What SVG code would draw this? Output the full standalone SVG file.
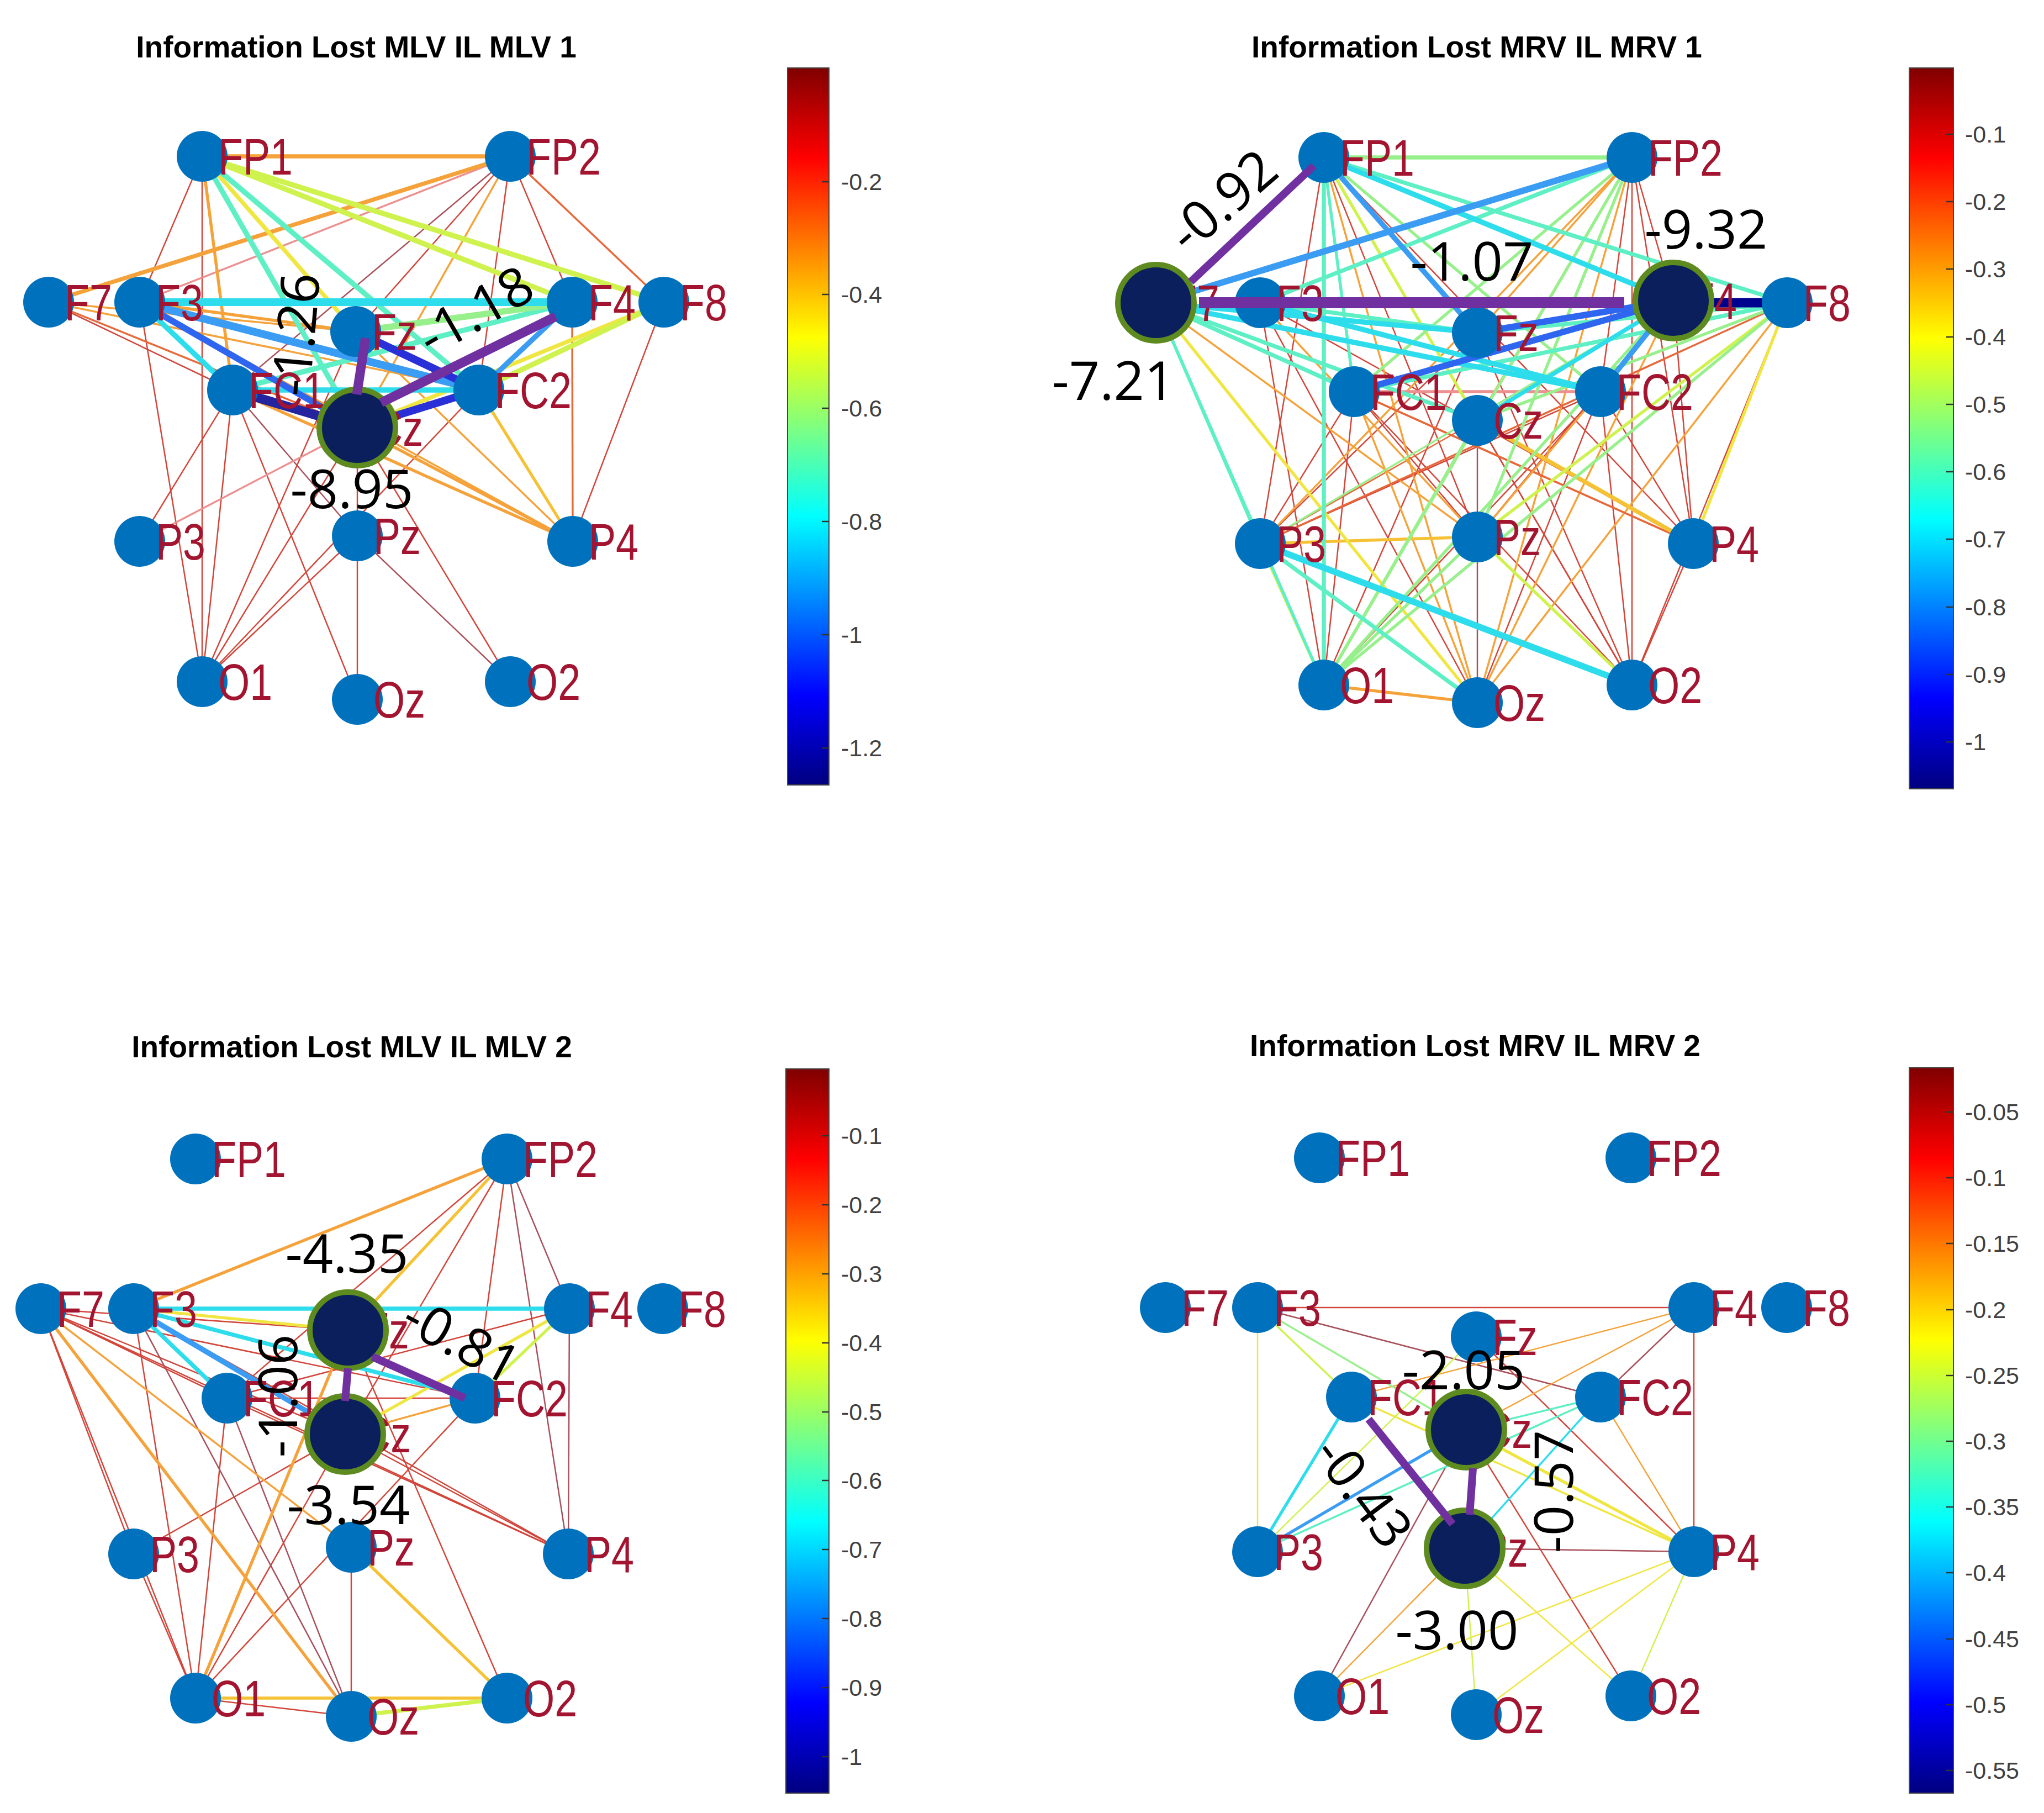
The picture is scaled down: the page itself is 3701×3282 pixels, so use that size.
<svg xmlns="http://www.w3.org/2000/svg" width="3701" height="3282" viewBox="0 0 3701 3282">
<defs>
<linearGradient id="jet" x1="0" y1="0" x2="0" y2="1">
<stop offset="0" stop-color="#800000"/>
<stop offset="0.125" stop-color="#FF0000"/>
<stop offset="0.375" stop-color="#FFFF00"/>
<stop offset="0.625" stop-color="#00FFFF"/>
<stop offset="0.875" stop-color="#0000FF"/>
<stop offset="1" stop-color="#000080"/>
</linearGradient>
<style>
.n{fill:#0072BD}
.bn{fill:#0B1F5C;stroke:#5E8B1F;stroke-width:10}
.nl{font-family:"Liberation Sans",Arial,sans-serif;font-size:92px;fill:#A2142F}
.vl{font-family:"Open Sans","DejaVu Sans",sans-serif;font-size:97px;fill:#000;text-anchor:middle}
.tt{font-family:"Liberation Sans",Arial,sans-serif;font-weight:bold;font-size:55px;fill:#000;text-anchor:middle}
.tl{font-family:"Liberation Sans",Arial,sans-serif;font-size:43px;fill:#404040}
.tk{stroke:#333;stroke-width:2.5}
.cb{stroke:#444;stroke-width:2;fill:url(#jet)}
line{fill:none}
.r{stroke:#D2453A}.br{stroke:#A8505A}.pk{stroke:#EC9090}.or{stroke:#E8683A}.o{stroke:#F5A23A}.oy{stroke:#F5C235}.y{stroke:#F0E642}.yg{stroke:#CFF24E}.g{stroke:#98F08C}.aq{stroke:#5EF0C4}.c{stroke:#2EDDEB}.az{stroke:#3A9CF2}.b{stroke:#2F66F0}.db{stroke:#2A30D8}.dd{stroke:#24249E}.nv{stroke:#00008F}.p{stroke:#7030A0}
.w1{stroke-width:2.5}.w2{stroke-width:3.5}.w3{stroke-width:5.5}.w4{stroke-width:7.5}.w5{stroke-width:9.5}.w6{stroke-width:11.5}.w7{stroke-width:14}.w8{stroke-width:17}.w9{stroke-width:20}
</style>
</defs>
<rect width="3701" height="3282" fill="#fff"/>

<!-- Titles -->
<text class="tt" x="645" y="104">Information Lost MLV IL MLV 1</text>
<text class="tt" x="2674" y="104">Information Lost MRV IL MRV 1</text>
<text class="tt" x="637" y="1914">Information Lost MLV IL MLV 2</text>
<text class="tt" x="2671" y="1912">Information Lost MRV IL MRV 2</text>

<!-- ========== Panel 1 connectors ========== -->
<g id="p1-connectors">
<line class="r w1" x1="366" y1="283" x2="253" y2="547"/>
<line class="r w1" x1="366" y1="283" x2="366" y2="1234"/>
<line class="br w1" x1="924" y1="283" x2="421" y2="706"/>
<line class="r w1" x1="924" y1="283" x2="644" y2="600"/>
<line class="r w1" x1="924" y1="283" x2="867" y2="706"/>
<line class="r w1" x1="924" y1="283" x2="1036" y2="547"/>
<line class="r w1" x1="1202" y1="547" x2="1037" y2="980"/>
<line class="r w1" x1="88" y1="547" x2="421" y2="706"/>
<line class="r w1" x1="421" y1="706" x2="253" y2="980"/>
<line class="r w1" x1="421" y1="706" x2="366" y2="1234"/>
<line class="r w1" x1="421" y1="706" x2="647" y2="1266"/>
<line class="br w1" x1="421" y1="706" x2="647" y2="970"/>
<line class="r w1" x1="253" y1="547" x2="366" y2="1234"/>
<line class="r w1" x1="647" y1="970" x2="366" y2="1234"/>
<line class="br w1" x1="647" y1="970" x2="924" y2="1234"/>
<line class="r w1" x1="647" y1="970" x2="647" y2="1266"/>
<line class="r w1" x1="647" y1="774" x2="924" y2="1234"/>
<line class="r w1" x1="366" y1="1234" x2="647" y2="774"/>
<line class="r w1" x1="366" y1="1234" x2="644" y2="600"/>
<line class="r w1" x1="647" y1="774" x2="647" y2="970"/>
<line class="r w1" x1="867" y1="706" x2="366" y2="1234"/>
<line class="pk w2" x1="924" y1="283" x2="253" y2="547"/>
<line class="pk w2" x1="253" y1="980" x2="647" y2="774"/>
<line class="or w2" x1="88" y1="547" x2="647" y2="774"/>
<line class="or w2" x1="924" y1="283" x2="1202" y2="547"/>
<line class="o w2" x1="924" y1="283" x2="647" y2="774"/>
<line class="o w3" x1="253" y1="547" x2="644" y2="600"/>
<line class="o w2" x1="88" y1="547" x2="644" y2="600"/>
<line class="o w2" x1="88" y1="547" x2="867" y2="706"/>
<line class="or w2" x1="1036" y1="547" x2="1037" y2="980"/>
<line class="o w2" x1="253" y1="547" x2="1037" y2="980"/>
<line class="o w2" x1="644" y1="600" x2="1037" y2="980"/>
<line class="o w3" x1="647" y1="774" x2="1037" y2="980"/>
<line class="o w3" x1="421" y1="706" x2="1037" y2="980"/>
<line class="o w3" x1="366" y1="283" x2="421" y2="706"/>
<line class="oy w3" x1="867" y1="706" x2="1037" y2="980"/>
<line class="o w4" x1="366" y1="283" x2="924" y2="283"/>
<line class="o w4" x1="924" y1="283" x2="88" y2="547"/>
<line class="y w4" x1="366" y1="283" x2="644" y2="600"/>
<line class="y w4" x1="1202" y1="547" x2="647" y2="774"/>
<line class="yg w5" x1="366" y1="283" x2="1202" y2="547"/>
<line class="yg w5" x1="366" y1="283" x2="1036" y2="547"/>
<line class="yg w5" x1="1202" y1="547" x2="867" y2="706"/>
<line class="aq w5" x1="366" y1="283" x2="867" y2="706"/>
<line class="aq w5" x1="366" y1="283" x2="647" y2="774"/>
<line class="aq w5" x1="1036" y1="547" x2="421" y2="706"/>
<line class="g w6" x1="1036" y1="547" x2="644" y2="600"/>
<line class="c w5" x1="253" y1="547" x2="421" y2="706"/>
<line class="c w5" x1="421" y1="706" x2="867" y2="706"/>
<line class="c w7" x1="253" y1="547" x2="1036" y2="547"/>
<line class="az w5" x1="1036" y1="547" x2="867" y2="706"/>
<line class="az w7" x1="253" y1="547" x2="867" y2="706"/>
<line class="b w6" x1="253" y1="547" x2="647" y2="774"/>
<line class="db w7" x1="644" y1="600" x2="867" y2="706"/>
<line class="db w7" x1="647" y1="774" x2="867" y2="706"/>
<line class="dd w8" x1="421" y1="706" x2="647" y2="774"/>
</g>

<!-- ========== Panel 2 connectors ========== -->
<g id="p2-connectors">
<line class="r w1" x1="2397" y1="285" x2="2282" y2="984"/>
<line class="r w1" x1="2397" y1="285" x2="2675" y2="972"/>
<line class="r w1" x1="2397" y1="285" x2="2955" y2="1240"/>
<line class="r w1" x1="2397" y1="285" x2="3066" y2="984"/>
<line class="r w1" x1="2955" y1="285" x2="2955" y2="1240"/>
<line class="r w1" x1="2955" y1="285" x2="3066" y2="984"/>
<line class="r w1" x1="2955" y1="285" x2="3030" y2="544"/>
<line class="r w1" x1="2955" y1="285" x2="2898" y2="709"/>
<line class="r w1" x1="2282" y1="548" x2="3066" y2="984"/>
<line class="r w1" x1="2282" y1="548" x2="2397" y2="1240"/>
<line class="r w1" x1="2282" y1="548" x2="2675" y2="1272"/>
<line class="r w1" x1="3030" y1="544" x2="2675" y2="972"/>
<line class="r w1" x1="3030" y1="544" x2="3066" y2="984"/>
<line class="r w1" x1="2452" y1="709" x2="2675" y2="972"/>
<line class="r w1" x1="2452" y1="709" x2="2955" y2="1240"/>
<line class="r w1" x1="2452" y1="709" x2="2397" y2="1240"/>
<line class="r w1" x1="2452" y1="709" x2="2282" y2="984"/>
<line class="r w1" x1="2898" y1="709" x2="2282" y2="984"/>
<line class="r w1" x1="2898" y1="709" x2="2397" y2="1240"/>
<line class="r w1" x1="2898" y1="709" x2="2675" y2="1272"/>
<line class="r w1" x1="2898" y1="709" x2="2955" y2="1240"/>
<line class="r w1" x1="2898" y1="709" x2="3066" y2="984"/>
<line class="br w1" x1="2675" y1="761" x2="2675" y2="972"/>
<line class="r w1" x1="2675" y1="761" x2="2955" y2="1240"/>
<line class="br w1" x1="2675" y1="972" x2="2675" y2="1272"/>
<line class="r w1" x1="3236" y1="548" x2="2955" y2="1240"/>
<line class="r w1" x1="2675" y1="602" x2="2282" y2="984"/>
<line class="r w1" x1="2675" y1="602" x2="2955" y2="1240"/>
<line class="r w1" x1="2675" y1="602" x2="2397" y2="1240"/>
<line class="r w1" x1="3066" y1="984" x2="2955" y2="1240"/>
<line class="or w1" x1="2675" y1="761" x2="2282" y2="984"/>
<line class="o w2" x1="2397" y1="285" x2="2675" y2="1272"/>
<line class="o w2" x1="2955" y1="285" x2="2675" y2="602"/>
<line class="o w2" x1="2955" y1="285" x2="2675" y2="761"/>
<line class="o w2" x1="2955" y1="285" x2="2282" y2="984"/>
<line class="o w2" x1="2955" y1="285" x2="2675" y2="1272"/>
<line class="o w2" x1="2093" y1="548" x2="2675" y2="972"/>
<line class="or w2" x1="2093" y1="548" x2="3066" y2="984"/>
<line class="o w2" x1="2282" y1="548" x2="2675" y2="972"/>
<line class="o w2" x1="3030" y1="544" x2="2675" y2="1272"/>
<line class="o w2" x1="3236" y1="548" x2="2675" y2="1272"/>
<line class="o w2" x1="2452" y1="709" x2="2675" y2="1272"/>
<line class="or w2" x1="2452" y1="709" x2="3066" y2="984"/>
<line class="o w2" x1="2898" y1="709" x2="2675" y2="972"/>
<line class="or w2" x1="3236" y1="548" x2="2282" y2="984"/>
<line class="pk w3" x1="2452" y1="709" x2="2898" y2="709"/>
<line class="o w3" x1="2397" y1="1240" x2="2675" y2="1272"/>
<line class="oy w3" x1="2282" y1="984" x2="2675" y2="972"/>
<line class="oy w4" x1="2675" y1="761" x2="3066" y2="984"/>
<line class="y w3" x1="2093" y1="548" x2="2675" y2="1272"/>
<line class="y w3" x1="3236" y1="548" x2="3066" y2="984"/>
<line class="yg w3" x1="2397" y1="285" x2="2675" y2="761"/>
<line class="yg w3" x1="3236" y1="548" x2="2675" y2="972"/>
<line class="yg w3" x1="2282" y1="984" x2="2397" y2="1240"/>
<line class="yg w3" x1="2675" y1="972" x2="2955" y2="1240"/>
<line class="g w4" x1="2397" y1="285" x2="2955" y2="285"/>
<line class="g w3" x1="2397" y1="285" x2="2898" y2="709"/>
<line class="g w3" x1="2955" y1="285" x2="2452" y2="709"/>
<line class="g w3" x1="2955" y1="285" x2="2675" y2="972"/>
<line class="g w3" x1="2955" y1="285" x2="2397" y2="1240"/>
<line class="g w2" x1="3030" y1="544" x2="2282" y2="984"/>
<line class="g w3" x1="3030" y1="544" x2="2397" y2="1240"/>
<line class="g w3" x1="3236" y1="548" x2="2675" y2="761"/>
<line class="g w3" x1="3236" y1="548" x2="2397" y2="1240"/>
<line class="g w3" x1="2675" y1="761" x2="2397" y2="1240"/>
<line class="g w3" x1="2675" y1="972" x2="2397" y2="1240"/>
<line class="aq w4" x1="2397" y1="285" x2="3236" y2="548"/>
<line class="aq w3" x1="2397" y1="285" x2="2452" y2="709"/>
<line class="aq w4" x1="2397" y1="285" x2="2397" y2="1240"/>
<line class="aq w4" x1="2955" y1="285" x2="2282" y2="548"/>
<line class="aq w4" x1="2093" y1="548" x2="2675" y2="761"/>
<line class="aq w4" x1="2093" y1="548" x2="2452" y2="709"/>
<line class="aq w3" x1="2093" y1="548" x2="2282" y2="984"/>
<line class="aq w3" x1="2093" y1="548" x2="2397" y2="1240"/>
<line class="aq w4" x1="2282" y1="548" x2="2675" y2="602"/>
<line class="aq w4" x1="3236" y1="548" x2="2452" y2="709"/>
<line class="aq w4" x1="3236" y1="548" x2="2675" y2="602"/>
<line class="aq w4" x1="2282" y1="984" x2="2675" y2="1272"/>
<line class="c w5" x1="2397" y1="285" x2="3030" y2="544"/>
<line class="c w5" x1="2093" y1="548" x2="2675" y2="602"/>
<line class="c w5" x1="2093" y1="548" x2="2898" y2="709"/>
<line class="c w5" x1="2282" y1="548" x2="2898" y2="709"/>
<line class="c w4" x1="3030" y1="544" x2="2675" y2="761"/>
<line class="c w6" x1="2282" y1="984" x2="2955" y2="1240"/>
<line class="az w6" x1="2955" y1="285" x2="2093" y2="548"/>
<line class="az w5" x1="2397" y1="285" x2="2675" y2="602"/>
<line class="az w5" x1="3030" y1="544" x2="2898" y2="709"/>
<line class="b w6" x1="3030" y1="544" x2="2675" y2="602"/>
<line class="b w6" x1="3030" y1="544" x2="2452" y2="709"/>
<line class="nv w8" x1="3030" y1="548" x2="3236" y2="548"/>
</g>

<!-- ========== Panel 3 connectors ========== -->
<g id="p3-connectors">
<line class="r w1" x1="918" y1="2098" x2="625" y2="2596"/>
<line class="r w1" x1="918" y1="2098" x2="860" y2="2531"/>
<line class="r w1" x1="918" y1="2098" x2="411" y2="2531"/>
<line class="r w1" x1="242" y1="2369" x2="1029" y2="2813"/>
<line class="r w1" x1="242" y1="2369" x2="354" y2="3074"/>
<line class="r w1" x1="74" y1="2369" x2="630" y2="2408"/>
<line class="r w1" x1="74" y1="2369" x2="860" y2="2531"/>
<line class="r w1" x1="74" y1="2369" x2="625" y2="2596"/>
<line class="r w1" x1="74" y1="2369" x2="411" y2="2531"/>
<line class="r w1" x1="74" y1="2369" x2="1029" y2="2813"/>
<line class="r w1" x1="74" y1="2369" x2="242" y2="2813"/>
<line class="r w1" x1="74" y1="2369" x2="354" y2="3074"/>
<line class="r w1" x1="1031" y1="2369" x2="411" y2="2531"/>
<line class="r w1" x1="411" y1="2531" x2="860" y2="2531"/>
<line class="r w1" x1="411" y1="2531" x2="1029" y2="2813"/>
<line class="r w1" x1="625" y1="2596" x2="1029" y2="2813"/>
<line class="r w1" x1="242" y1="2813" x2="625" y2="2596"/>
<line class="r w1" x1="860" y1="2531" x2="354" y2="3074"/>
<line class="r w1" x1="354" y1="3074" x2="625" y2="2596"/>
<line class="r w1" x1="354" y1="3074" x2="411" y2="2531"/>
<line class="r w1" x1="354" y1="3074" x2="242" y2="2813"/>
<line class="r w1" x1="354" y1="3074" x2="636" y2="3107"/>
<line class="r w1" x1="636" y1="3107" x2="636" y2="2801"/>
<line class="r w1" x1="630" y1="2408" x2="918" y2="3074"/>
<line class="br w1" x1="411" y1="2531" x2="636" y2="3107"/>
<line class="br w1" x1="242" y1="2369" x2="636" y2="3107"/>
<line class="br w1" x1="918" y1="2098" x2="1031" y2="2369"/>
<line class="br w1" x1="918" y1="2098" x2="1029" y2="2813"/>
<line class="br w1" x1="1031" y1="2369" x2="1029" y2="2813"/>
<line class="o w3" x1="918" y1="2098" x2="242" y2="2369"/>
<line class="oy w3" x1="918" y1="2098" x2="630" y2="2408"/>
<line class="o w2" x1="74" y1="2369" x2="636" y2="2801"/>
<line class="o w3" x1="74" y1="2369" x2="636" y2="3107"/>
<line class="o w2" x1="625" y1="2596" x2="860" y2="2531"/>
<line class="o w3" x1="354" y1="3074" x2="630" y2="2408"/>
<line class="oy w3" x1="354" y1="3074" x2="918" y2="3074"/>
<line class="oy w3" x1="636" y1="2801" x2="918" y2="3074"/>
<line class="y w3" x1="242" y1="2369" x2="630" y2="2408"/>
<line class="y w3" x1="1031" y1="2369" x2="625" y2="2596"/>
<line class="yg w3" x1="1031" y1="2369" x2="860" y2="2531"/>
<line class="yg w4" x1="636" y1="3107" x2="918" y2="3074"/>
<line class="c w4" x1="242" y1="2369" x2="1031" y2="2369"/>
<line class="c w4" x1="242" y1="2369" x2="860" y2="2531"/>
<line class="c w4" x1="242" y1="2369" x2="411" y2="2531"/>
<line class="az w5" x1="242" y1="2369" x2="625" y2="2596"/>
</g>

<!-- ========== Panel 4 connectors ========== -->
<g id="p4-connectors">
<line class="r w1" x1="2277" y1="2367" x2="3067" y2="2367"/>
<line class="r w1" x1="3067" y1="2367" x2="3067" y2="2809"/>
<line class="r w1" x1="2673" y1="2420" x2="3067" y2="2809"/>
<line class="r w1" x1="2655" y1="2588" x2="2953" y2="3070"/>
<line class="br w1" x1="2652" y1="2803" x2="3067" y2="2809"/>
<line class="br w1" x1="2277" y1="2367" x2="2898" y2="2529"/>
<line class="br w1" x1="3067" y1="2367" x2="2898" y2="2529"/>
<line class="br w1" x1="2389" y1="3070" x2="2655" y2="2588"/>
<line class="o w1" x1="3067" y1="2367" x2="2655" y2="2588"/>
<line class="o w1" x1="3067" y1="2367" x2="2447" y2="2529"/>
<line class="o w1" x1="2898" y1="2529" x2="3067" y2="2809"/>
<line class="o w1" x1="2389" y1="3070" x2="2652" y2="2803"/>
<line class="y w1" x1="2277" y1="2367" x2="2277" y2="2809"/>
<line class="y w1" x1="2389" y1="3070" x2="3067" y2="2809"/>
<line class="y w1" x1="2673" y1="3104" x2="3067" y2="2809"/>
<line class="y w1" x1="2652" y1="2803" x2="2953" y2="3070"/>
<line class="y w3" x1="2655" y1="2588" x2="3067" y2="2809"/>
<line class="y w2" x1="2447" y1="2529" x2="3067" y2="2809"/>
<line class="yg w1" x1="2673" y1="3104" x2="2652" y2="2803"/>
<line class="yg w1" x1="2953" y1="3070" x2="3067" y2="2809"/>
<line class="yg w2" x1="2277" y1="2367" x2="2447" y2="2529"/>
<line class="yg w1" x1="2277" y1="2809" x2="2673" y2="2420"/>
<line class="g w2" x1="2277" y1="2367" x2="2655" y2="2588"/>
<line class="aq w2" x1="2277" y1="2809" x2="2898" y2="2529"/>
<line class="aq w2" x1="2898" y1="2529" x2="2655" y2="2588"/>
<line class="c w3" x1="2447" y1="2529" x2="2277" y2="2809"/>
<line class="c w2" x1="2898" y1="2529" x2="2652" y2="2803"/>
<line class="az w3" x1="2277" y1="2809" x2="2655" y2="2588"/>
</g>

<!-- ========== Panel 1 nodes ========== -->
<g id="p1-FP1"><circle class="n" cx="366" cy="283" r="46"/><text class="nl" transform="translate(395 316) scale(.8 1)">FP1</text></g>
<g id="p1-FP2"><circle class="n" cx="924" cy="283" r="46"/><text class="nl" transform="translate(953 316) scale(.8 1)">FP2</text></g>
<g id="p1-F7"><circle class="n" cx="88" cy="547" r="46"/><text class="nl" transform="translate(117 580) scale(.8 1)">F7</text></g>
<g id="p1-F3"><circle class="n" cx="253" cy="547" r="46"/><text class="nl" transform="translate(282 580) scale(.8 1)">F3</text></g>
<g id="p1-Fz"><circle class="n" cx="644" cy="600" r="46"/><text class="nl" transform="translate(673 633) scale(.8 1)">Fz</text></g>
<g id="p1-F4"><circle class="n" cx="1036" cy="547" r="46"/><text class="nl" transform="translate(1065 580) scale(.8 1)">F4</text></g>
<g id="p1-F8"><circle class="n" cx="1202" cy="547" r="46"/><text class="nl" transform="translate(1231 580) scale(.8 1)">F8</text></g>
<g id="p1-FC1"><circle class="n" cx="421" cy="706" r="46"/><text class="nl" transform="translate(450 739) scale(.8 1)">FC1</text></g>
<g id="p1-FC2"><circle class="n" cx="867" cy="706" r="46"/><text class="nl" transform="translate(896 739) scale(.8 1)">FC2</text></g>
<g id="p1-P3"><circle class="n" cx="253" cy="980" r="46"/><text class="nl" transform="translate(282 1013) scale(.8 1)">P3</text></g>
<g id="p1-Pz"><circle class="n" cx="647" cy="970" r="46"/><text class="nl" transform="translate(676 1003) scale(.8 1)">Pz</text></g>
<g id="p1-P4"><circle class="n" cx="1037" cy="980" r="46"/><text class="nl" transform="translate(1066 1013) scale(.8 1)">P4</text></g>
<g id="p1-O1"><circle class="n" cx="366" cy="1234" r="46"/><text class="nl" transform="translate(395 1267) scale(.8 1)">O1</text></g>
<g id="p1-Oz"><circle class="n" cx="647" cy="1266" r="46"/><text class="nl" transform="translate(676 1299) scale(.8 1)">Oz</text></g>
<g id="p1-O2"><circle class="n" cx="924" cy="1234" r="46"/><text class="nl" transform="translate(953 1267) scale(.8 1)">O2</text></g>
<g id="p1-Cz"><text class="nl" transform="translate(676 807) scale(.8 1)">Cz</text><circle class="bn" cx="647" cy="774" r="69"/></g>

<!-- ========== Panel 2 nodes ========== -->
<g id="p2-FP1"><circle class="n" cx="2397" cy="285" r="46"/><text class="nl" transform="translate(2426 318) scale(.8 1)">FP1</text></g>
<g id="p2-FP2"><circle class="n" cx="2955" cy="285" r="46"/><text class="nl" transform="translate(2984 318) scale(.8 1)">FP2</text></g>
<g id="p2-F3"><circle class="n" cx="2282" cy="548" r="46"/><text class="nl" transform="translate(2311 581) scale(.8 1)">F3</text></g>
<g id="p2-Fz"><circle class="n" cx="2675" cy="602" r="46"/><text class="nl" transform="translate(2704 635) scale(.8 1)">Fz</text></g>
<g id="p2-F8"><circle class="n" cx="3236" cy="548" r="46"/><text class="nl" transform="translate(3265 581) scale(.8 1)">F8</text></g>
<g id="p2-FC1"><circle class="n" cx="2452" cy="709" r="46"/><text class="nl" transform="translate(2481 742) scale(.8 1)">FC1</text></g>
<g id="p2-FC2"><circle class="n" cx="2898" cy="709" r="46"/><text class="nl" transform="translate(2927 742) scale(.8 1)">FC2</text></g>
<g id="p2-Cz"><circle class="n" cx="2675" cy="761" r="46"/><text class="nl" transform="translate(2704 794) scale(.8 1)">Cz</text></g>
<g id="p2-P3"><circle class="n" cx="2282" cy="984" r="46"/><text class="nl" transform="translate(2311 1017) scale(.8 1)">P3</text></g>
<g id="p2-Pz"><circle class="n" cx="2675" cy="972" r="46"/><text class="nl" transform="translate(2704 1005) scale(.8 1)">Pz</text></g>
<g id="p2-P4"><circle class="n" cx="3066" cy="984" r="46"/><text class="nl" transform="translate(3095 1017) scale(.8 1)">P4</text></g>
<g id="p2-O1"><circle class="n" cx="2397" cy="1240" r="46"/><text class="nl" transform="translate(2426 1273) scale(.8 1)">O1</text></g>
<g id="p2-Oz"><circle class="n" cx="2675" cy="1272" r="46"/><text class="nl" transform="translate(2704 1305) scale(.8 1)">Oz</text></g>
<g id="p2-O2"><circle class="n" cx="2955" cy="1240" r="46"/><text class="nl" transform="translate(2984 1273) scale(.8 1)">O2</text></g>
<g id="p2-F7"><text class="nl" transform="translate(2122 581) scale(.8 1)">F7</text><circle class="bn" cx="2093" cy="548" r="69"/></g>
<g id="p2-F4"><text class="nl" transform="translate(3059 577) scale(.8 1)">F4</text><circle class="bn" cx="3030" cy="544" r="69"/></g>

<!-- ========== Panel 3 nodes ========== -->
<g id="p3-FP1"><circle class="n" cx="354" cy="2098" r="46"/><text class="nl" transform="translate(383 2131) scale(.8 1)">FP1</text></g>
<g id="p3-FP2"><circle class="n" cx="918" cy="2098" r="46"/><text class="nl" transform="translate(947 2131) scale(.8 1)">FP2</text></g>
<g id="p3-F7"><circle class="n" cx="74" cy="2369" r="46"/><text class="nl" transform="translate(103 2402) scale(.8 1)">F7</text></g>
<g id="p3-F3"><circle class="n" cx="242" cy="2369" r="46"/><text class="nl" transform="translate(271 2402) scale(.8 1)">F3</text></g>
<g id="p3-F4"><circle class="n" cx="1031" cy="2369" r="46"/><text class="nl" transform="translate(1060 2402) scale(.8 1)">F4</text></g>
<g id="p3-F8"><circle class="n" cx="1200" cy="2369" r="46"/><text class="nl" transform="translate(1229 2402) scale(.8 1)">F8</text></g>
<g id="p3-FC1"><circle class="n" cx="411" cy="2531" r="46"/><text class="nl" transform="translate(440 2564) scale(.8 1)">FC1</text></g>
<g id="p3-FC2"><circle class="n" cx="860" cy="2531" r="46"/><text class="nl" transform="translate(889 2564) scale(.8 1)">FC2</text></g>
<g id="p3-P3"><circle class="n" cx="242" cy="2813" r="46"/><text class="nl" transform="translate(271 2846) scale(.8 1)">P3</text></g>
<g id="p3-Pz"><circle class="n" cx="636" cy="2801" r="46"/><text class="nl" transform="translate(665 2834) scale(.8 1)">Pz</text></g>
<g id="p3-P4"><circle class="n" cx="1029" cy="2813" r="46"/><text class="nl" transform="translate(1058 2846) scale(.8 1)">P4</text></g>
<g id="p3-O1"><circle class="n" cx="354" cy="3074" r="46"/><text class="nl" transform="translate(383 3107) scale(.8 1)">O1</text></g>
<g id="p3-Oz"><circle class="n" cx="636" cy="3107" r="46"/><text class="nl" transform="translate(665 3140) scale(.8 1)">Oz</text></g>
<g id="p3-O2"><circle class="n" cx="918" cy="3074" r="46"/><text class="nl" transform="translate(947 3107) scale(.8 1)">O2</text></g>
<g id="p3-Fz"><text class="nl" transform="translate(659 2441) scale(.8 1)">Fz</text><circle class="bn" cx="630" cy="2408" r="69"/></g>
<g id="p3-Cz"><text class="nl" transform="translate(654 2629) scale(.8 1)">Cz</text><circle class="bn" cx="625" cy="2596" r="69"/></g>

<!-- ========== Panel 4 nodes ========== -->
<g id="p4-FP1"><circle class="n" cx="2389" cy="2096" r="46"/><text class="nl" transform="translate(2418 2129) scale(.8 1)">FP1</text></g>
<g id="p4-FP2"><circle class="n" cx="2953" cy="2096" r="46"/><text class="nl" transform="translate(2982 2129) scale(.8 1)">FP2</text></g>
<g id="p4-F7"><circle class="n" cx="2110" cy="2367" r="46"/><text class="nl" transform="translate(2139 2400) scale(.8 1)">F7</text></g>
<g id="p4-F3"><circle class="n" cx="2277" cy="2367" r="46"/><text class="nl" transform="translate(2306 2400) scale(.8 1)">F3</text></g>
<g id="p4-Fz"><circle class="n" cx="2673" cy="2420" r="46"/><text class="nl" transform="translate(2702 2453) scale(.8 1)">Fz</text></g>
<g id="p4-F4"><circle class="n" cx="3067" cy="2367" r="46"/><text class="nl" transform="translate(3096 2400) scale(.8 1)">F4</text></g>
<g id="p4-F8"><circle class="n" cx="3235" cy="2367" r="46"/><text class="nl" transform="translate(3264 2400) scale(.8 1)">F8</text></g>
<g id="p4-FC1"><circle class="n" cx="2447" cy="2529" r="46"/><text class="nl" transform="translate(2476 2562) scale(.8 1)">FC1</text></g>
<g id="p4-FC2"><circle class="n" cx="2898" cy="2529" r="46"/><text class="nl" transform="translate(2927 2562) scale(.8 1)">FC2</text></g>
<g id="p4-P3"><circle class="n" cx="2277" cy="2809" r="46"/><text class="nl" transform="translate(2306 2842) scale(.8 1)">P3</text></g>
<g id="p4-P4"><circle class="n" cx="3067" cy="2809" r="46"/><text class="nl" transform="translate(3096 2842) scale(.8 1)">P4</text></g>
<g id="p4-O1"><circle class="n" cx="2389" cy="3070" r="46"/><text class="nl" transform="translate(2418 3103) scale(.8 1)">O1</text></g>
<g id="p4-Oz"><circle class="n" cx="2673" cy="3104" r="46"/><text class="nl" transform="translate(2702 3137) scale(.8 1)">Oz</text></g>
<g id="p4-O2"><circle class="n" cx="2953" cy="3070" r="46"/><text class="nl" transform="translate(2982 3103) scale(.8 1)">O2</text></g>
<g id="p4-Cz"><text class="nl" transform="translate(2684 2621) scale(.8 1)">Cz</text><circle class="bn" cx="2655" cy="2588" r="69"/></g>
<g id="p4-Pz"><text class="nl" transform="translate(2681 2836) scale(.8 1)">Pz</text><circle class="bn" cx="2652" cy="2803" r="69"/></g>

<!-- ========== Highlighted connectors ========== -->
<g id="highlight-connectors">
<line class="p w8" x1="662" y1="612" x2="646" y2="714"/>
<line class="p w8" x1="1006" y1="573" x2="690" y2="729"/>
<line class="p w7" x1="2379" y1="300" x2="2156" y2="510"/>
<line class="p w9" x1="2171" y1="548" x2="2941" y2="548"/>
<line class="p w7" x1="630" y1="2477" x2="625" y2="2536"/>
<line class="p w7" x1="674" y1="2456" x2="842" y2="2531"/>
<line class="p w7" x1="2478" y1="2569" x2="2630" y2="2759"/>
<line class="p w7" x1="2667" y1="2658" x2="2661" y2="2742"/>
</g>

<!-- ========== Value labels ========== -->
<g id="value-labels">
<text class="vl" transform="translate(535 605) rotate(-85)" y="35">-1.26</text>
<text class="vl" transform="translate(860 562) rotate(-30)" y="35">-1.18</text>
<text class="vl" x="637" y="920">-8.95</text>
<text class="vl" transform="translate(2213 363) rotate(-41)" y="35">-0.92</text>
<text class="vl" x="2665" y="508">-1.07</text>
<text class="vl" x="3089" y="450">-9.32</text>
<text class="vl" x="2016" y="724">-7.21</text>
<text class="vl" x="628" y="2304">-4.35</text>
<text class="vl" x="631" y="2759">-3.54</text>
<text class="vl" transform="translate(503 2527) rotate(-90)" y="35">-1.06</text>
<text class="vl" transform="translate(836 2426) rotate(28)" y="35">-0.81</text>
<text class="vl" x="2650" y="2515">-2.05</text>
<text class="vl" x="2638" y="2986">-3.00</text>
<text class="vl" transform="translate(2469 2700) rotate(53)" y="35">-0.43</text>
<text class="vl" transform="translate(2813 2700) rotate(-90)" y="35">-0.57</text>
</g>

<!-- ========== Colorbars ========== -->
<g id="colorbar-1">
<rect class="cb" x="1426" y="123" width="75" height="1298"/>
<line class="tk" x1="1488" y1="329" x2="1501" y2="329"/>
<line class="tk" x1="1488" y1="533" x2="1501" y2="533"/>
<line class="tk" x1="1488" y1="739" x2="1501" y2="739"/>
<line class="tk" x1="1488" y1="944" x2="1501" y2="944"/>
<line class="tk" x1="1488" y1="1149" x2="1501" y2="1149"/>
<line class="tk" x1="1488" y1="1354" x2="1501" y2="1354"/>
<text class="tl" x="1523" y="344">-0.2</text>
<text class="tl" x="1523" y="548">-0.4</text>
<text class="tl" x="1523" y="754">-0.6</text>
<text class="tl" x="1523" y="959">-0.8</text>
<text class="tl" x="1523" y="1164">-1</text>
<text class="tl" x="1523" y="1369">-1.2</text>
</g>
<g id="colorbar-2">
<rect class="cb" x="3457" y="123" width="80" height="1305"/>
<line class="tk" x1="3524" y1="243" x2="3537" y2="243"/>
<line class="tk" x1="3524" y1="365" x2="3537" y2="365"/>
<line class="tk" x1="3524" y1="487" x2="3537" y2="487"/>
<line class="tk" x1="3524" y1="610" x2="3537" y2="610"/>
<line class="tk" x1="3524" y1="732" x2="3537" y2="732"/>
<line class="tk" x1="3524" y1="854" x2="3537" y2="854"/>
<line class="tk" x1="3524" y1="976" x2="3537" y2="976"/>
<line class="tk" x1="3524" y1="1099" x2="3537" y2="1099"/>
<line class="tk" x1="3524" y1="1221" x2="3537" y2="1221"/>
<line class="tk" x1="3524" y1="1343" x2="3537" y2="1343"/>
<text class="tl" x="3558" y="258">-0.1</text>
<text class="tl" x="3558" y="380">-0.2</text>
<text class="tl" x="3558" y="502">-0.3</text>
<text class="tl" x="3558" y="625">-0.4</text>
<text class="tl" x="3558" y="747">-0.5</text>
<text class="tl" x="3558" y="869">-0.6</text>
<text class="tl" x="3558" y="991">-0.7</text>
<text class="tl" x="3558" y="1114">-0.8</text>
<text class="tl" x="3558" y="1236">-0.9</text>
<text class="tl" x="3558" y="1358">-1</text>
</g>
<g id="colorbar-3">
<rect class="cb" x="1423" y="1935" width="78" height="1311"/>
<line class="tk" x1="1488" y1="2056" x2="1501" y2="2056"/>
<line class="tk" x1="1488" y1="2181" x2="1501" y2="2181"/>
<line class="tk" x1="1488" y1="2306" x2="1501" y2="2306"/>
<line class="tk" x1="1488" y1="2431" x2="1501" y2="2431"/>
<line class="tk" x1="1488" y1="2556" x2="1501" y2="2556"/>
<line class="tk" x1="1488" y1="2680" x2="1501" y2="2680"/>
<line class="tk" x1="1488" y1="2805" x2="1501" y2="2805"/>
<line class="tk" x1="1488" y1="2930" x2="1501" y2="2930"/>
<line class="tk" x1="1488" y1="3055" x2="1501" y2="3055"/>
<line class="tk" x1="1488" y1="3180" x2="1501" y2="3180"/>
<text class="tl" x="1523" y="2071">-0.1</text>
<text class="tl" x="1523" y="2196">-0.2</text>
<text class="tl" x="1523" y="2321">-0.3</text>
<text class="tl" x="1523" y="2446">-0.4</text>
<text class="tl" x="1523" y="2571">-0.5</text>
<text class="tl" x="1523" y="2695">-0.6</text>
<text class="tl" x="1523" y="2820">-0.7</text>
<text class="tl" x="1523" y="2945">-0.8</text>
<text class="tl" x="1523" y="3070">-0.9</text>
<text class="tl" x="1523" y="3195">-1</text>
</g>
<g id="colorbar-4">
<rect class="cb" x="3457" y="1933" width="80" height="1313"/>
<line class="tk" x1="3524" y1="2013" x2="3537" y2="2013"/>
<line class="tk" x1="3524" y1="2132" x2="3537" y2="2132"/>
<line class="tk" x1="3524" y1="2251" x2="3537" y2="2251"/>
<line class="tk" x1="3524" y1="2371" x2="3537" y2="2371"/>
<line class="tk" x1="3524" y1="2490" x2="3537" y2="2490"/>
<line class="tk" x1="3524" y1="2609" x2="3537" y2="2609"/>
<line class="tk" x1="3524" y1="2728" x2="3537" y2="2728"/>
<line class="tk" x1="3524" y1="2847" x2="3537" y2="2847"/>
<line class="tk" x1="3524" y1="2967" x2="3537" y2="2967"/>
<line class="tk" x1="3524" y1="3086" x2="3537" y2="3086"/>
<line class="tk" x1="3524" y1="3205" x2="3537" y2="3205"/>
<text class="tl" x="3558" y="2028">-0.05</text>
<text class="tl" x="3558" y="2147">-0.1</text>
<text class="tl" x="3558" y="2266">-0.15</text>
<text class="tl" x="3558" y="2386">-0.2</text>
<text class="tl" x="3558" y="2505">-0.25</text>
<text class="tl" x="3558" y="2624">-0.3</text>
<text class="tl" x="3558" y="2743">-0.35</text>
<text class="tl" x="3558" y="2862">-0.4</text>
<text class="tl" x="3558" y="2982">-0.45</text>
<text class="tl" x="3558" y="3101">-0.5</text>
<text class="tl" x="3558" y="3220">-0.55</text>
</g>
</svg>
